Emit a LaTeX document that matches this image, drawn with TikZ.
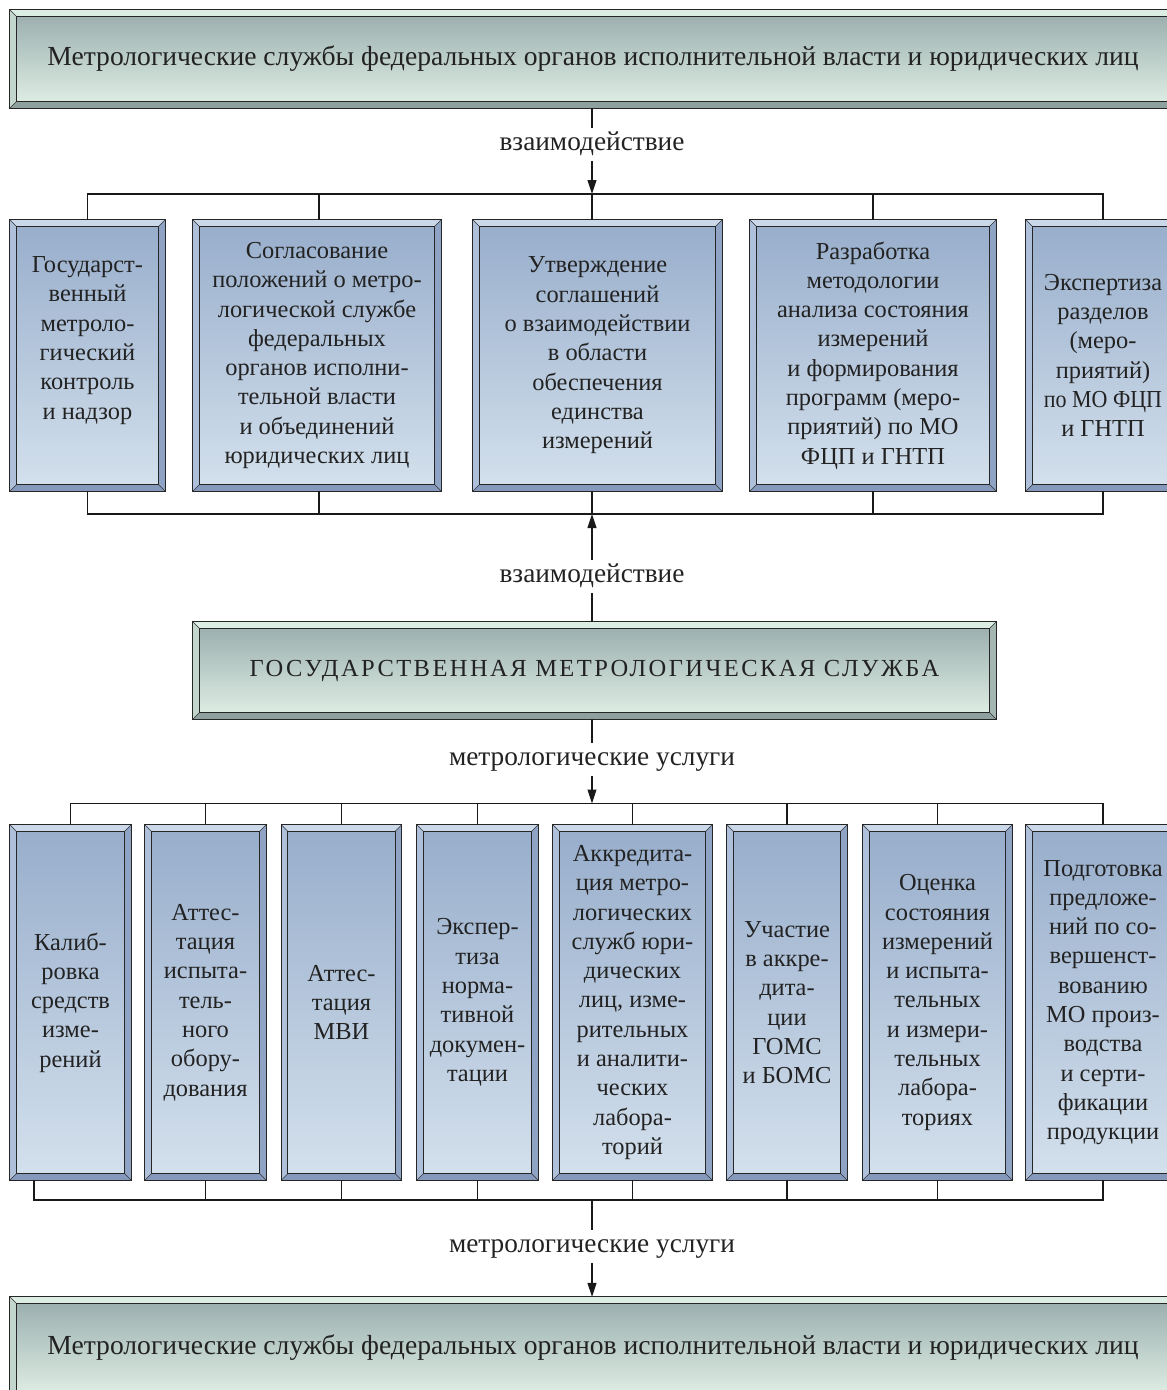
\documentclass[tikz,border=0pt]{standalone}
\usepackage{fontspec}
\setmainfont{Liberation Serif}
\newfontfamily\gmsfont[LetterSpace=10]{Liberation Serif}
\usetikzlibrary{arrows.meta,calc}
\definecolor{txt}{HTML}{222222}
\definecolor{bT}{HTML}{CAD8E9}
\definecolor{bL}{HTML}{AEC0DA}
\definecolor{bR}{HTML}{8FA4C5}
\definecolor{bB}{HTML}{8499BC}
\definecolor{bTop}{HTML}{97ADCB}
\definecolor{bBot}{HTML}{D4E1ED}
\definecolor{gT}{HTML}{DCEDE3}
\definecolor{gL}{HTML}{C3D6CD}
\definecolor{gR}{HTML}{A3B6B2}
\definecolor{gB}{HTML}{8FA19F}
\definecolor{gTop}{HTML}{98ACAC}
\definecolor{gBot}{HTML}{E2F1E7}
\newcommand\bw{6.5pt}
\newcommand\bev[5]{%
 \fill[#2] (#1.north west) -- (#1.north east) -- ([shift={(-\bw,-\bw)}]#1.north east) -- ([shift={(\bw,-\bw)}]#1.north west) -- cycle;
 \fill[#5] (#1.south west) -- (#1.south east) -- ([shift={(-\bw,\bw)}]#1.south east) -- ([shift={(\bw,\bw)}]#1.south west) -- cycle;
 \fill[#3] (#1.north west) -- ([shift={(\bw,-\bw)}]#1.north west) -- ([shift={(\bw,\bw)}]#1.south west) -- (#1.south west) -- cycle;
 \fill[#4] (#1.north east) -- ([shift={(-\bw,-\bw)}]#1.north east) -- ([shift={(-\bw,\bw)}]#1.south east) -- (#1.south east) -- cycle;
 \draw[line width=0.5pt,black!80] (#1.north west) -- ([shift={(\bw,-\bw)}]#1.north west)
   (#1.north east) -- ([shift={(-\bw,-\bw)}]#1.north east)
   (#1.south west) -- ([shift={(\bw,\bw)}]#1.south west)
   (#1.south east) -- ([shift={(-\bw,\bw)}]#1.south east);
 \draw[line width=0.9pt,black!85] ([shift={(\bw,-\bw)}]#1.north west) rectangle ([shift={(-\bw,\bw)}]#1.south east);
 \draw[line width=0.9pt,black!85] (#1.north west) rectangle (#1.south east);
}
\newcommand\bbev[1]{\bev{#1}{bT}{bL}{bR}{bB}}
\newcommand\gbev[1]{\bev{#1}{gT}{gL}{gR}{gB}}
\tikzset{
 base/.style={rectangle, inner sep=0pt, align=center, text=txt,
   font=\fontsize{24.4}{29.3}\selectfont},
 bluebox/.style={base, top color=bTop, bottom color=bBot},
 greenbox/.style={base, top color=gTop, bottom color=gBot},
 bigtext/.style={font=\fontsize{27.6}{32}\selectfont},
 lbl/.style={inner sep=1pt, text=txt, anchor=base, text height=21pt, text depth=10pt,
   font=\fontsize{27.3}{32}\selectfont},
 conn/.style={line width=1.1pt, black!90},
 arr/.style={conn, -{Triangle[length=14pt,width=9pt]}},
}
\begin{document}
\begin{tikzpicture}[x=1pt,y=-1pt]
\useasboundingbox (0,0) rectangle (1167,1390);
% top and bottom boxes
\node[greenbox, bigtext, minimum width=1166, minimum height=98] (top) at (593,59)
  {Метрологические службы федеральных органов исполнительной власти и юридических лиц};
\gbev{top}
\node[greenbox, minimum width=803, minimum height=97, font=\fontsize{24.5}{29}\selectfont] (gms) at (594.5,670.5)
  {\gmsfont ГОСУДАРСТВЕННАЯ МЕТРОЛОГИЧЕСКАЯ СЛУЖБА};
\gbev{gms}
\node[greenbox, bigtext, minimum width=1166, minimum height=102] (bot) at (593,1348)
  {Метрологические службы федеральных органов исполнительной власти и юридических лиц};
\gbev{bot}
% row 1
\tikzset{r1/.style={bluebox, minimum height=271}}
\node[r1, minimum width=155] (a1) at (87.5,355.5) {Государст-\\венный\\метроло-\\гический\\контроль\\и надзор\\[6pt]};
\node[r1, minimum width=248] (a2) at (317,355.5) {Согласование\\положений о метро-\\логической службе\\федеральных\\органов исполни-\\тельной власти\\и объединений\\юридических лиц};
\node[r1, minimum width=249] (a3) at (597.5,355.5) {Утверждение\\соглашений\\о взаимодействии\\в области\\обеспечения\\единства\\измерений};
\node[r1, minimum width=246] (a4) at (873,355.5) {Разработка\\методологии\\анализа состояния\\измерений\\и формирования\\программ (меро-\\приятий) по МО\\ФЦП и ГНТП};
\node[r1, minimum width=154] (a5) at (1103,355.5) {Экспертиза\\разделов\\(меро-\\приятий)\\\scalebox{0.9}[1]{по МО ФЦП}\\и ГНТП};
\foreach \n in {a1,a2,a3,a4,a5} {\bbev{\n}}
% row 2
\tikzset{r2/.style={bluebox, minimum height=355}}
\node[r2, minimum width=121] (c1) at (70.5,1002.5) {Калиб-\\ровка\\средств\\изме-\\рений};
\node[r2, minimum width=121] (c2) at (205.5,1002.5) {Аттес-\\тация\\испыта-\\тель-\\ного\\обору-\\дования};
\node[r2, minimum width=120] (c3) at (341.5,1002.5) {Аттес-\\тация\\МВИ};
\node[r2, minimum width=121] (c4) at (477.5,1002.5) {Экспер-\\тиза\\норма-\\тивной\\докумен-\\тации};
\node[r2, minimum width=159] (c5) at (632.5,1002.5) {Аккредита-\\ция метро-\\логических\\служб юри-\\дических\\лиц, изме-\\рительных\\и аналити-\\ческих\\лабора-\\торий};
\node[r2, minimum width=120] (c6) at (787,1002.5) {Участие\\в аккре-\\дита-\\ции\\ГОМС\\и БОМС};
\node[r2, minimum width=149] (c7) at (937.5,1002.5) {Оценка\\состояния\\измерений\\и испыта-\\тельных\\и измери-\\тельных\\лабора-\\ториях};
\node[r2, minimum width=154] (c8) at (1103,1002.5) {Подготовка\\предложе-\\ний по со-\\вершенст-\\вованию\\МО произ-\\водства\\и серти-\\фикации\\продукции};
\foreach \n in {c1,c2,c3,c4,c5,c6,c7,c8} {\bbev{\n}}
% labels (placed at their baselines)
\node[lbl] (l1) at (592,150) {взаимодействие};
\node[lbl] (l2) at (592,582) {взаимодействие};
\node[lbl] (l3) at (592,765) {метрологические услуги};
\node[lbl] (l4) at (592,1252) {метрологические услуги};
% bus coordinates
\coordinate (t1) at (592,194);
\coordinate (u1) at (592,514);
\coordinate (t2) at (592,803.5);
\coordinate (u2) at (592,1200);
% row 1 buses
\draw[conn] (a1.north) |- (t1) -| (a5.north);
\draw[conn] (a1.south) |- (u1) -| (a5.south);
\draw[conn] (a2.north -| 319,0) -- (t1 -| 319,0);
\draw[conn] (a2.south -| 319,0) -- (u1 -| 319,0);
\draw[conn] (a3.north -| t1) -- (t1);
\draw[conn] (a3.south -| u1) -- (u1);
\draw[conn] (a4.north) -- (a4.north |- t1);
\draw[conn] (a4.south) -- (a4.south |- u1);
% row 2 buses
\draw[conn] (c1.north) |- (t2) -| (c8.north);
\draw[conn] (c1.south -| 34,0) |- (u2) -| (c8.south);
\foreach \n in {c2,c3,c4,c5,c6,c7} {
  \draw[conn] (\n.north) -- (\n.north |- t2);
  \draw[conn] (\n.south) -- (\n.south |- u2);
}
% flow
\draw[conn] (top.south -| t1) -- (l1.north);
\draw[arr] (l1.south) -- (t1);
\draw[arr] (l2.north) -- (u1);
\draw[conn] (gms.north -| u1) -- (l2.south);
\draw[conn] (gms.south -| t2) -- (l3.north);
\draw[arr] (l3.south) -- (t2);
\draw[conn] (u2) -- (l4.north);
\draw[arr] (l4.south) -- (bot.north -| u2);
\end{tikzpicture}
\end{document}
